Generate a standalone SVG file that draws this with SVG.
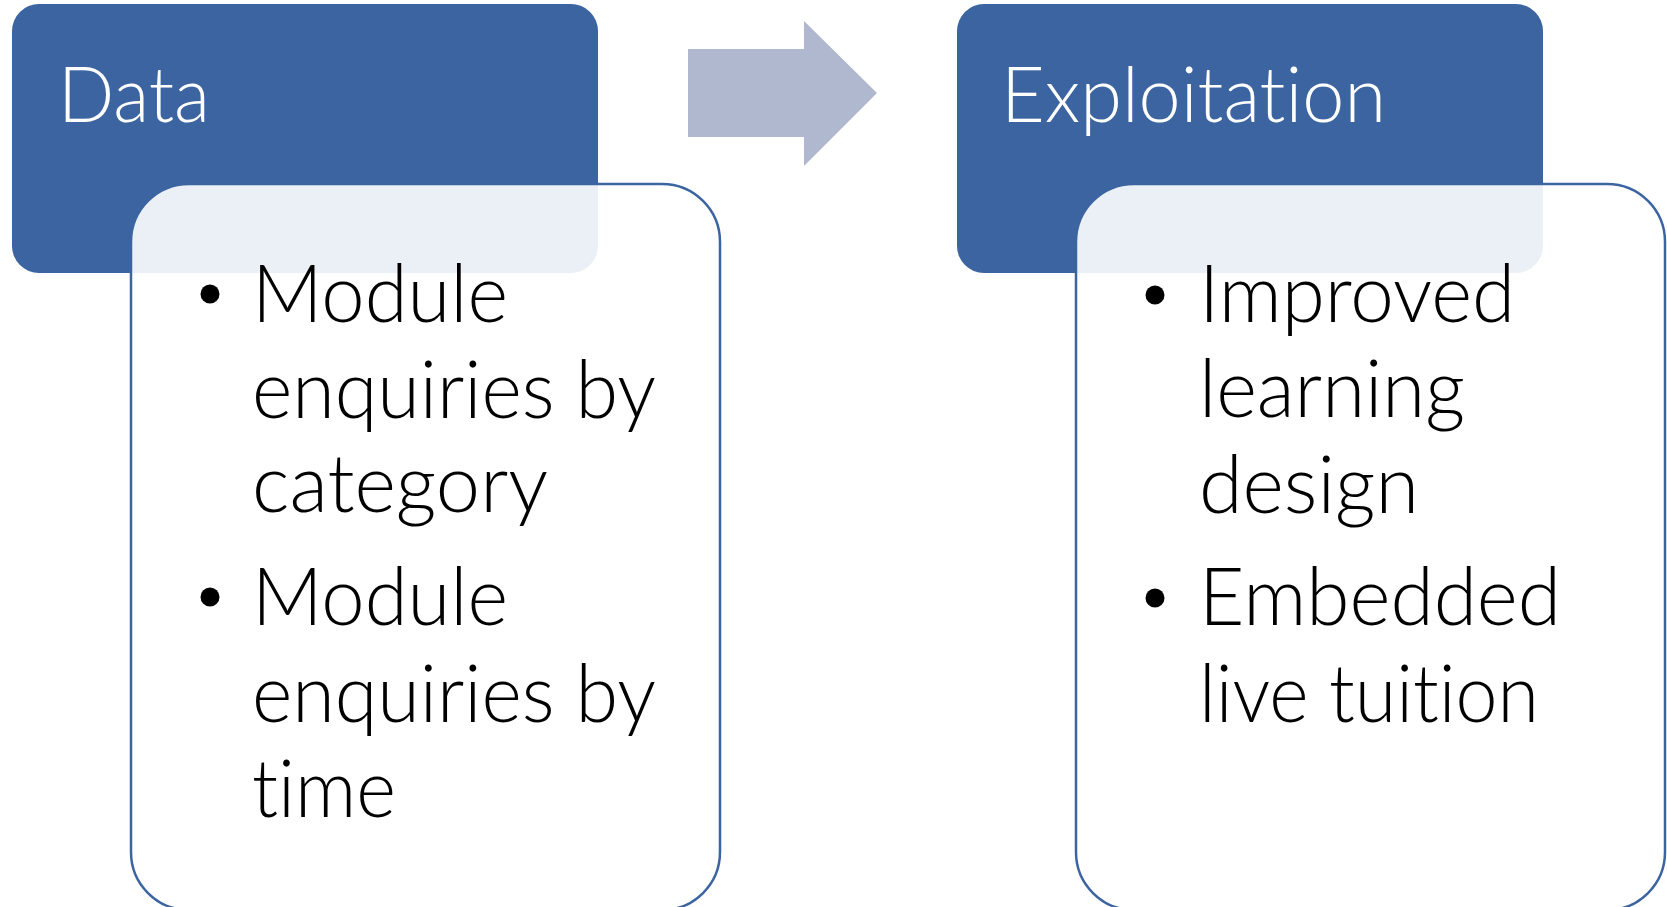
<svg xmlns="http://www.w3.org/2000/svg" width="1667" height="907" viewBox="0 0 1667 907">
<style>
.hdr{fill:#3B64A0}
.body{fill:#FFFFFF;fill-opacity:0.9;stroke:#3B64A0;stroke-width:2.5}
.htxt{font-family:"Lato","Open Sans",sans-serif;font-weight:300;font-size:77px;fill:#FFFFFF;font-variant-ligatures:none;font-feature-settings:"liga" 0,"dlig" 0}
.btxt{font-family:"Lato","Open Sans",sans-serif;font-weight:300;font-size:80px;fill:#000000;font-variant-ligatures:none;font-feature-settings:"liga" 0,"dlig" 0}
.arrow{fill:#AFB8CE}
</style>
<rect width="1667" height="907" fill="#FFFFFF"/>
<g id="data">
<rect class="hdr" x="12" y="4" width="586" height="269" rx="27" ry="27"/>
<text class="htxt" x="58" y="122" textLength="152" lengthAdjust="spacingAndGlyphs">Data</text>
</g>
<g id="data-items">
<rect class="body" x="131" y="184" width="589" height="726" rx="58" ry="58"/>
<circle cx="210" cy="294" r="9.5"/>
<text class="btxt" x="252" y="322" textLength="256" lengthAdjust="spacingAndGlyphs">Module</text>
<text class="btxt" x="252" y="418" textLength="404" lengthAdjust="spacingAndGlyphs">enquiries by</text>
<text class="btxt" x="252" y="512" textLength="296" lengthAdjust="spacingAndGlyphs">category</text>
<circle cx="210" cy="597" r="9.5"/>
<text class="btxt" x="252" y="625" textLength="256" lengthAdjust="spacingAndGlyphs">Module</text>
<text class="btxt" x="252" y="722" textLength="404" lengthAdjust="spacingAndGlyphs">enquiries by</text>
<text class="btxt" x="252" y="817" textLength="144" lengthAdjust="spacingAndGlyphs">time</text>
</g>
<g id="exploitation">
<rect class="hdr" x="957" y="4" width="586" height="269" rx="27" ry="27"/>
<text class="htxt" x="1001" y="122" textLength="385" lengthAdjust="spacingAndGlyphs">Exploitation</text>
</g>
<g id="exploitation-items">
<rect class="body" x="1076" y="184" width="589" height="726" rx="58" ry="58"/>
<circle cx="1155" cy="295" r="9.5"/>
<text class="btxt" x="1199" y="322" textLength="316" lengthAdjust="spacingAndGlyphs">Improved</text>
<text class="btxt" x="1199" y="417" textLength="266" lengthAdjust="spacingAndGlyphs">learning</text>
<text class="btxt" x="1199" y="513" textLength="220" lengthAdjust="spacingAndGlyphs">design</text>
<circle cx="1155" cy="598" r="9.5"/>
<text class="btxt" x="1199" y="625" textLength="362" lengthAdjust="spacingAndGlyphs">Embedded</text>
<text class="btxt" x="1199" y="722" textLength="340" lengthAdjust="spacingAndGlyphs">live tuition</text>
</g>
<g id="connectors">
<polygon class="arrow" points="688,49 804,49 804,21 877,93 804,166 804,137 688,137"/>
</g>
</svg>
